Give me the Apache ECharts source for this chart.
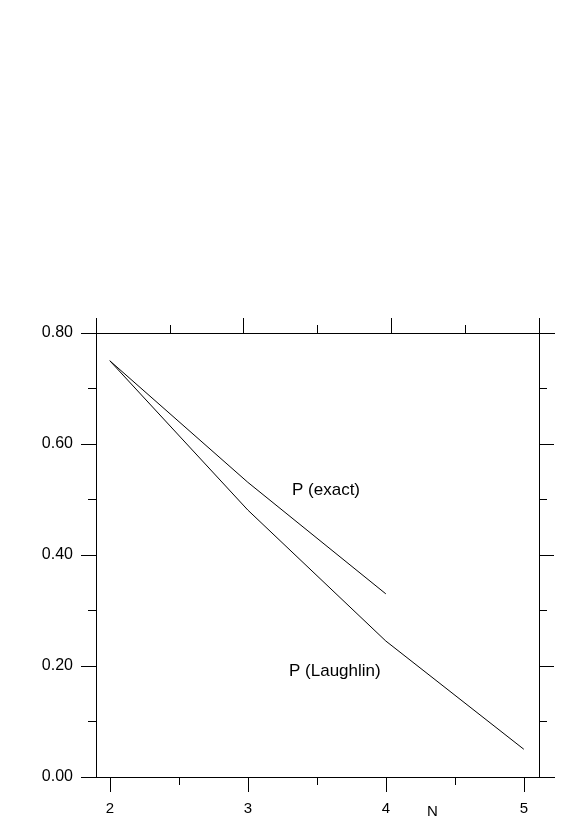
<!DOCTYPE html>
<html>
<head>
<meta charset="utf-8">
<script src="https://cdn.jsdelivr.net/npm/echarts@6/dist/echarts.min.js"></script>
<style>html,body{margin:0;padding:0;background:#fff}#c{width:581px;height:837px}</style>
</head>
<body>
<div id="c"></div>
<script>
(function(){
    var nExact = [2, 3, 4];
    var pExact = [0.75, 0.531, 0.33];
    var nLaughlin = [2, 3, 4, 5];
    var pLaughlin = [0.75, 0.481, 0.245, 0.05];
    var majorX = [2, 3, 4, 5];
    var minorX = [2.5, 3.5, 4.5];

    var myChart = echarts.init(document.getElementById('c'));
    var font = '"Liberation Sans", Arial, sans-serif';
    var lineStyle = { color: '#000', width: 1 };

    function pairs(xs, ys){
      return xs.map(function(x, i){ return [x, ys[i]]; });
    }

    var option = {
      animation: false,
      grid: { left: 96, right: 42, top: 333, bottom: 60 },
      xAxis: [
        {
          type: 'value', min: 1.9, max: 5.11, position: 'bottom',
          axisLine: { lineStyle: lineStyle },
          axisTick: { customValues: majorX, length: 15, lineStyle: lineStyle },
          axisLabel: { customValues: majorX, margin: 24, fontSize: 15, color: '#000', fontFamily: font },
          splitLine: { show: false }
        },
        {
          type: 'value', min: 1.9, max: 5.11, position: 'bottom',
          axisLine: { show: false },
          axisTick: { customValues: minorX, length: 8, lineStyle: lineStyle },
          axisLabel: { show: false },
          splitLine: { show: false }
        },
        {
          type: 'value', min: 0, max: 6, interval: 2, position: 'top',
          axisLine: { lineStyle: lineStyle },
          axisTick: { length: 15, lineStyle: lineStyle },
          minorTick: { show: true, splitNumber: 2, length: 8, lineStyle: lineStyle },
          axisLabel: { show: false },
          splitLine: { show: false }
        }
      ],
      yAxis: [
        {
          type: 'value', min: 0, max: 0.8, interval: 0.2, position: 'left',
          axisLine: { show: true, lineStyle: lineStyle },
          axisTick: { length: 15, lineStyle: lineStyle },
          minorTick: { show: true, splitNumber: 2, length: 8, lineStyle: lineStyle },
          axisLabel: { margin: 23, fontSize: 16, color: '#000', fontFamily: font,
            formatter: function(v){ return v.toFixed(2); } },
          splitLine: { show: false }
        },
        {
          type: 'value', min: 0, max: 0.8, interval: 0.2, position: 'right',
          axisLine: { show: true, lineStyle: lineStyle },
          axisTick: { length: 15, lineStyle: lineStyle },
          minorTick: { show: true, splitNumber: 2, length: 8, lineStyle: lineStyle },
          axisLabel: { show: false },
          splitLine: { show: false }
        }
      ],
      graphic: [
        // axis lines running past the frame
        { type: 'line', shape: { x1: 81, y1: 333.5, x2: 555, y2: 333.5 }, style: { stroke: '#000', lineWidth: 1 } },
        { type: 'line', shape: { x1: 81, y1: 777.5, x2: 555, y2: 777.5 }, style: { stroke: '#000', lineWidth: 1 } },
        { type: 'line', shape: { x1: 96.5, y1: 318, x2: 96.5, y2: 333 }, style: { stroke: '#000', lineWidth: 1 } },
        { type: 'line', shape: { x1: 539.5, y1: 318, x2: 539.5, y2: 333 }, style: { stroke: '#000', lineWidth: 1 } },
        { type: 'text', left: 427, top: 804, style: { text: 'N', font: '15px ' + font, fill: '#000' } },
        { type: 'text', left: 292, top: 482, style: { text: 'P (exact)', font: '17px ' + font, fill: '#000' } },
        { type: 'text', left: 289, top: 663, style: { text: 'P (Laughlin)', font: '17px ' + font, fill: '#000' } }
      ],
      series: [
        {
          type: 'line', name: 'P (exact)', data: pairs(nExact, pExact),
          symbol: 'none', lineStyle: { color: '#000', width: 1 }
        },
        {
          type: 'line', name: 'P (Laughlin)', data: pairs(nLaughlin, pLaughlin),
          symbol: 'none', lineStyle: { color: '#000', width: 1 }
        }
      ]
    };
    myChart.setOption(option);
})();
</script>
</body>
</html>
